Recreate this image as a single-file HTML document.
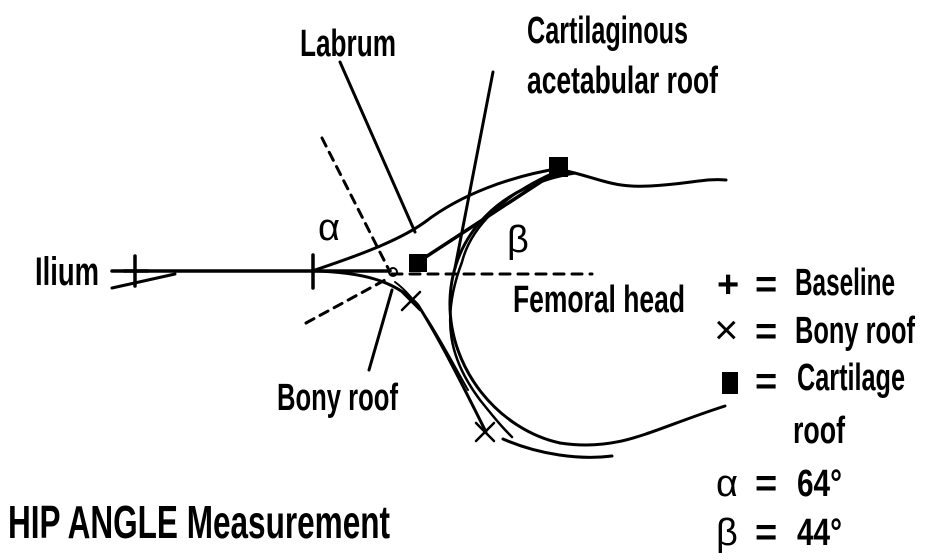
<!DOCTYPE html>
<html><head><meta charset="utf-8"><style>
html,body{margin:0;padding:0;background:#fff;}
svg{display:block}
text{font-family:"Liberation Sans",sans-serif;font-weight:bold;fill:#000}
</style></head><body>
<svg width="926" height="560" viewBox="0 0 926 560" xmlns="http://www.w3.org/2000/svg">
<g stroke="#000" fill="none" stroke-linecap="round">
<line x1="112" y1="271" x2="390" y2="271" stroke-width="3.5"/>
<line x1="112" y1="288" x2="175" y2="274" stroke-width="3"/>
<line x1="124" y1="271" x2="148" y2="271" stroke-width="3.5"/>
<line x1="135" y1="256" x2="135" y2="286" stroke-width="3.5"/>
<line x1="313" y1="255" x2="313" y2="288" stroke-width="3.5"/>
<line x1="322" y1="138" x2="388" y2="268" stroke-width="3" stroke-dasharray="9,7"/>
<line x1="306" y1="323" x2="385" y2="280" stroke-width="3" stroke-dasharray="9,7"/>
<line x1="392" y1="274" x2="592" y2="274" stroke-width="3" stroke-dasharray="10,8"/>
<path d="M315,270 C360,255 400,240 425,222 C460,195 510,176 562,168" stroke-width="3"/>
<path d="M418,262 C460,235 520,195 562,168" stroke-width="3.5"/>
<path d="M562,170 C600,178 610,188 650,186 C690,184 705,178 726,180" stroke-width="3"/>
<path d="M575,173 C500,185 452,235 450,300 C448,370 500,430 560,443 C620,452 650,430 725,406" stroke-width="3"/>
<path d="M560,170 C500,195 470,230 462,262 C440,320 450,360 480,400 C500,425 505,430 512,437" stroke-width="2.5"/>
<path d="M503,439 C540,455 580,460 612,456" stroke-width="3"/>
<path d="M313,271 C360,272 395,280 418,305 C440,340 460,380 486,432" stroke-width="3"/>
<path d="M395,282 C420,300 440,340 468,390" stroke-width="2"/>
<line x1="340" y1="62" x2="415" y2="232" stroke-width="3"/>
<line x1="493" y1="72" x2="455" y2="268" stroke-width="3"/>
<line x1="369" y1="370" x2="392" y2="290" stroke-width="3"/>
<path d="M402,292 L420,310 M420,292 L402,310" stroke-width="2.5"/>
<path d="M476,423 L494,441 M494,423 L476,441" stroke-width="2.5"/>
</g>
<rect x="409" y="254" width="18" height="18" fill="#000"/>
<rect x="549" y="157" width="19" height="20" fill="#000"/>
<circle cx="393" cy="272" r="4" fill="none" stroke="#000" stroke-width="2"/>
<text x="35" y="285" font-size="40" textLength="64" lengthAdjust="spacingAndGlyphs">Ilium</text>
<text x="300" y="56" font-size="38" textLength="96" lengthAdjust="spacingAndGlyphs">Labrum</text>
<text x="527" y="43" font-size="38" textLength="161" lengthAdjust="spacingAndGlyphs">Cartilaginous</text>
<text x="527" y="93" font-size="38" textLength="191" lengthAdjust="spacingAndGlyphs">acetabular roof</text>
<text x="513" y="312" font-size="38" textLength="172" lengthAdjust="spacingAndGlyphs">Femoral head</text>
<text x="277" y="410" font-size="38" textLength="121" lengthAdjust="spacingAndGlyphs">Bony roof</text>
<text x="8" y="538" font-size="46" textLength="382" lengthAdjust="spacingAndGlyphs">HIP ANGLE Measurement</text>
<text x="318" y="240" font-size="38" style="font-weight:normal">α</text>
<text x="507" y="252" font-size="38" style="font-weight:normal">β</text>
<g font-size="38">
<text x="717" y="297">+</text>
<text x="755" y="297">=</text>
<text x="795" y="295" textLength="100" lengthAdjust="spacingAndGlyphs">Baseline</text>
<text x="714" y="344" font-size="42" style="font-weight:normal">×</text>
<text x="755" y="344">=</text>
<text x="795" y="343" textLength="120" lengthAdjust="spacingAndGlyphs">Bony roof</text>
<text x="755" y="394">=</text>
<text x="797" y="390" textLength="108" lengthAdjust="spacingAndGlyphs">Cartilage</text>
<text x="793" y="443" textLength="52" lengthAdjust="spacingAndGlyphs">roof</text>
<text x="716" y="496" style="font-weight:normal">α</text>
<text x="755" y="496">=</text>
<text x="797" y="496" textLength="45" lengthAdjust="spacingAndGlyphs">64°</text>
<text x="716" y="545" style="font-weight:normal">β</text>
<text x="755" y="545">=</text>
<text x="797" y="545" textLength="45" lengthAdjust="spacingAndGlyphs">44°</text>
</g>
<rect x="722" y="372" width="16" height="22" fill="#000"/>
</svg>
</body></html>
